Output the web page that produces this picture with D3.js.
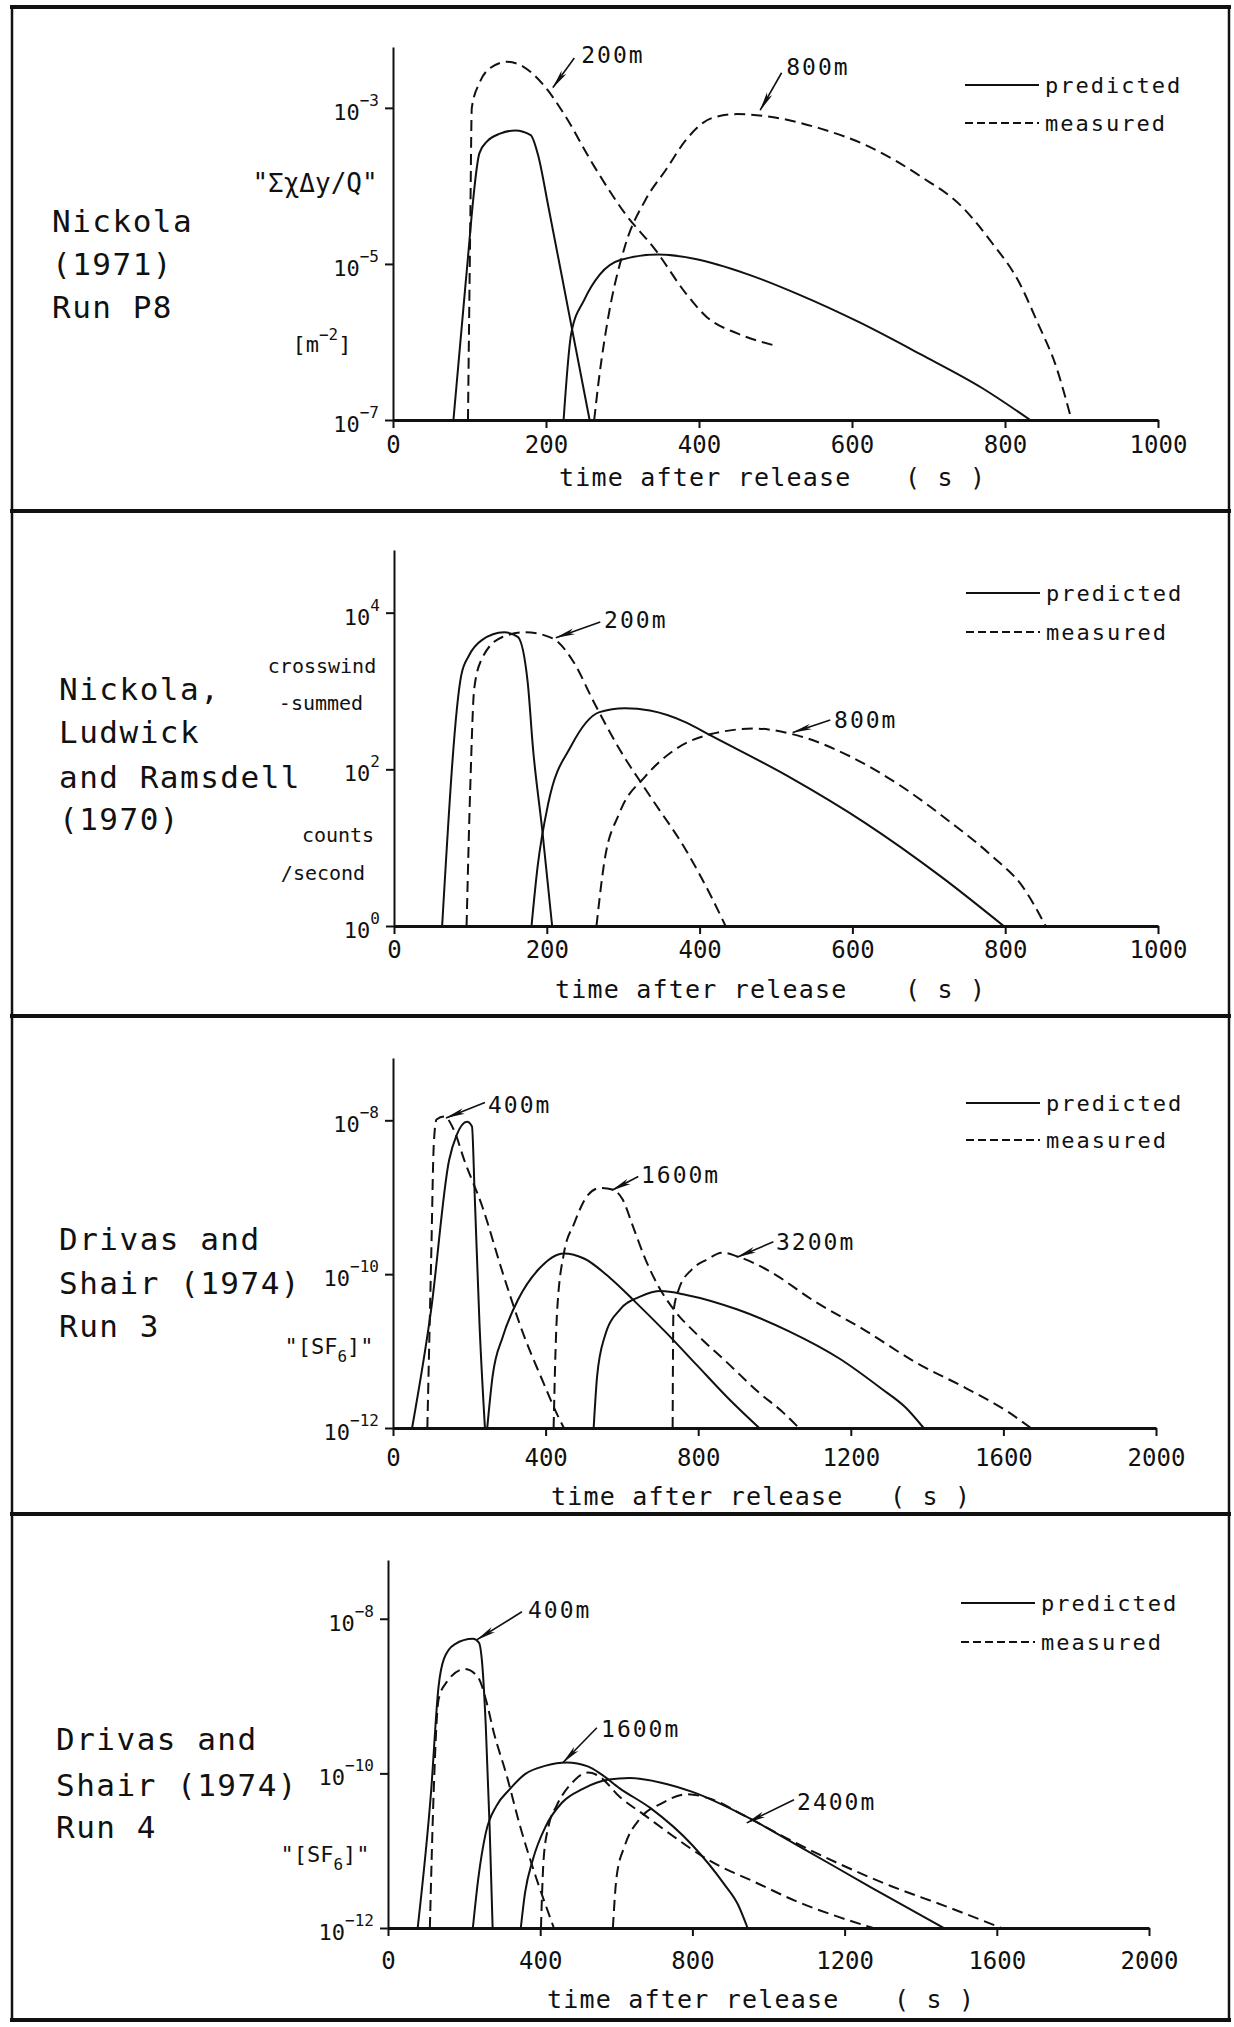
<!DOCTYPE html>
<html>
<head>
<meta charset="utf-8">
<script src="https://cdn.jsdelivr.net/npm/d3@7"></script>
<style>
  body { margin: 0; background: #fff; }
  svg text { font-family: "DejaVu Sans Mono", monospace; fill: #111; }
</style>
</head>
<body>
<svg id="fig" width="1234" height="2027"></svg>
<script>
// values: [time (s), log10 of the plotted quantity]

// Nickola (1971) Run P8
const p1Pred200 = [[79,-7],[95,-5.24],[113,-3.58],[123,-3.43],[140,-3.33],[160,-3.29],[180,-3.35],[190,-3.62],[203,-4.26],[230,-5.63],[257,-7]]
const p1Meas200 = [[98,-7],[101,-4.5],[103,-3.0],[113,-2.68],[127,-2.49],[149,-2.41],[170,-2.47],[197,-2.71],[223,-3.07],[263,-3.75],[303,-4.35],[343,-4.82],[383,-5.38],[410,-5.68],[450,-5.89],[497,-6.04]]
const p1Pred800 = [[223,-7],[233,-5.89],[250,-5.46],[270,-5.14],[297,-4.95],[347,-4.88],[397,-4.94],[463,-5.13],[530,-5.39],[610,-5.75],[690,-6.16],[770,-6.59],[833,-7]]
const p1Meas800 = [[263,-7],[269,-6.49],[280,-5.76],[303,-4.78],[330,-4.18],[357,-3.79],[383,-3.41],[417,-3.13],[450,-3.08],[490,-3.11],[557,-3.26],[623,-3.5],[690,-3.88],[743,-4.26],[783,-4.73],[817,-5.21],[843,-5.76],[867,-6.32],[887,-7]]

// Nickola, Ludwick and Ramsdell (1970)
const p2Pred200 = [[63,0],[88,3.2],[98,3.45],[115,3.65],[144,3.75],[162,3.69],[175,3.11],[182,2.26],[194,1.23],[207,0]]
const p2Meas200 = [[95,0],[100,1.83],[105,3.03],[115,3.41],[142,3.69],[172,3.75],[208,3.67],[235,3.37],[262,2.85],[295,2.26],[335,1.66],[382,0.97],[415,0.38],[434,0]]
const p2Pred800 = [[180,0],[188,0.76],[202,1.57],[232,2.3],[269,2.73],[302,2.78],[335,2.75],[382,2.6],[415,2.43],[516,1.91],[616,1.32],[716,0.63],[798,0]]
const p2Meas800 = [[265,0],[275,0.8],[295,1.44],[329,1.91],[369,2.26],[415,2.45],[472,2.52],[529,2.43],[596,2.17],[663,1.79],[729,1.32],[783,0.89],[823,0.5],[853,0]]

// Drivas and Shair (1974) Run 3
const p3Pred400 = [[50,-12],[100,-10.46],[147,-8.52],[167,-8.19],[194,-8.02],[207,-8.08],[214,-8.95],[227,-10.68],[241,-12]]
const p3Meas400 = [[90,-12],[100,-9.81],[107,-8.3],[114,-7.99],[134,-7.95],[160,-8.13],[187,-8.52],[234,-9.12],[288,-9.99],[341,-10.77],[395,-11.42],[428,-11.8],[448,-12]]
const p3Pred1600 = [[247,-12],[261,-11.33],[288,-10.81],[328,-10.33],[381,-9.94],[448,-9.73],[502,-9.8],[569,-10.05],[635,-10.36],[716,-10.76],[796,-11.18],[876,-11.6],[960,-12]]
const p3Meas1600 = [[421,-12],[426,-11.0],[430,-10.5],[448,-9.73],[475,-9.34],[508,-8.99],[542,-8.88],[575,-8.9],[602,-9.03],[629,-9.38],[662,-9.81],[696,-10.16],[736,-10.46],[796,-10.78],[876,-11.15],[957,-11.53],[1023,-11.8],[1064,-12]]
const p3Pred3200 = [[526,-12],[535,-11.33],[555,-10.81],[595,-10.46],[649,-10.29],[702,-10.22],[769,-10.27],[903,-10.46],[1037,-10.74],[1171,-11.1],[1278,-11.48],[1345,-11.74],[1391,-12]]
const p3Meas3200 = [[733,-12],[735,-10.5],[749,-10.2],[783,-9.94],[823,-9.81],[863,-9.72],[903,-9.77],[983,-9.95],[1104,-10.35],[1237,-10.73],[1371,-11.15],[1505,-11.49],[1612,-11.79],[1672,-12]]

// Drivas and Shair (1974) Run 4
const p4Pred400 = [[78,-12],[113,-10.25],[133,-8.87],[147,-8.52],[175,-8.33],[223,-8.26],[239,-8.31],[248,-8.61],[257,-9.39],[267,-10.68],[275,-12]]
const p4Meas400 = [[110,-12],[120,-10.25],[133,-9.04],[154,-8.82],[202,-8.65],[237,-8.76],[257,-9.04],[278,-9.47],[312,-10.03],[347,-10.68],[388,-11.33],[422,-11.81],[436,-12]]
const p4Pred1600 = [[223,-12],[237,-11.37],[257,-10.77],[285,-10.42],[319,-10.21],[360,-10.01],[415,-9.9],[470,-9.86],[525,-9.91],[560,-10.01],[608,-10.19],[690,-10.45],[800,-10.93],[883,-11.43],[920,-11.7],[945,-12]]
const p4Meas1600 = [[402,-12],[409,-11.11],[422,-10.68],[443,-10.42],[484,-10.12],[525,-9.99],[553,-10.03],[608,-10.3],[677,-10.55],[746,-10.8],[842,-11.12],[966,-11.41],[1076,-11.66],[1186,-11.86],[1275,-12]]
const p4Pred2400 = [[349,-12],[360,-11.55],[381,-11.11],[415,-10.68],[457,-10.38],[512,-10.2],[580,-10.08],[635,-10.06],[718,-10.12],[800,-10.24],[938,-10.55],[1076,-10.93],[1268,-11.47],[1461,-12]]
const p4Meas2400 = [[591,-12],[601,-11.33],[622,-10.94],[663,-10.58],[718,-10.39],[787,-10.27],[842,-10.32],[938,-10.55],[1048,-10.84],[1186,-11.17],[1323,-11.46],[1461,-11.71],[1612,-12]]

const p1Title = ["Nickola", "(1971)", "Run P8"]
const p2Title = ["Nickola,", "Ludwick", "and Ramsdell", "(1970)"]
const p3Title = ["Drivas and", "Shair (1974)", "Run 3"]
const p4Title = ["Drivas and", "Shair (1974)", "Run 4"]

const ticks1000 = [0, 200, 400, 600, 800, 1000]
const ticks2000 = [0, 400, 800, 1200, 1600, 2000]
const legendNames = ["predicted", "measured"]

const panels = [
  { x0: 393, x1: 1158, xMax: 1000, xTicks: ticks1000, yBot: 420, yTop: 47, logMin: -7, logMax: -2.22,
    yTicks: [-3, -5, -7], labPad: 8,
    series: [[p1Pred200, 0], [p1Meas200, 1], [p1Pred800, 0], [p1Meas800, 1]],
    notes: [{ text: "200m", at: [246, -2.42], from: [237, -2.36], tip: [209, -2.74] },
            { text: "800m", at: [514, -2.58], from: [508, -2.55], tip: [480, -3.03] }],
    title: p1Title, titleX: 52, titleY: [232, 275, 318],
    ylab: [{ x: 315, y: 192, size: 26, segs: [["\"ΣχΔy/Q\""]] },
           { x: 322, y: 352, size: 22, segs: [["[m"], ["−2", "sup"], ["]"]] }],
    legend: { x: 965, y: [85, 123] },
    xTitle: { y: 486, x: [559, 905] } },
  { x0: 394, x1: 1158, xMax: 1000, xTicks: ticks1000, yBot: 926, yTop: 550, logMin: 0, logMax: 4.8,
    yTicks: [4, 2, 0], labPad: 7,
    series: [[p2Pred200, 0], [p2Meas200, 1], [p2Pred800, 0], [p2Meas800, 1]],
    notes: [{ text: "200m", at: [275, 3.81], from: [270, 3.88], tip: [212, 3.68] },
            { text: "800m", at: [576, 2.53], from: [571, 2.63], tip: [522, 2.47] }],
    title: p2Title, titleX: 59, titleY: [700, 743, 788, 830],
    ylab: [{ x: 322, y: 673, size: 20, segs: [["crosswind"]] },
           { x: 321, y: 710, size: 20, segs: [["-summed"]] },
           { x: 338, y: 842, size: 20, segs: [["counts"]] },
           { x: 323, y: 880, size: 20, segs: [["/second"]] }],
    legend: { x: 966, y: [593, 632] },
    xTitle: { y: 998, x: [555, 905] } },
  { x0: 393, x1: 1156, xMax: 2000, xTicks: ticks2000, yBot: 1428, yTop: 1058, logMin: -12, logMax: -7.19,
    yTicks: [-8, -10, -12], labPad: 13,
    series: [[p3Pred400, 0], [p3Meas400, 1], [p3Pred1600, 0], [p3Meas1600, 1], [p3Pred3200, 0], [p3Meas3200, 1]],
    notes: [{ text: "400m", at: [249, -7.91], from: [241, -7.77], tip: [139, -7.97] },
            { text: "1600m", at: [650, -8.82], from: [643, -8.73], tip: [574, -8.91] },
            { text: "3200m", at: [1004, -9.69], from: [997, -9.58], tip: [902, -9.78] }],
    title: p3Title, titleX: 59, titleY: [1250, 1294, 1337],
    ylab: [{ x: 329, y: 1354, size: 22, segs: [["\"[SF"], ["6", "sub"], ["]\""]] }],
    legend: { x: 966, y: [1103, 1140] },
    xTitle: { y: 1505, x: [551, 890] } },
  { x0: 388, x1: 1149, xMax: 2000, xTicks: ticks2000, yBot: 1928, yTop: 1560, logMin: -12, logMax: -7.24,
    yTicks: [-8, -10, -12], labPad: 16,
    series: [[p4Pred400, 0], [p4Meas400, 1], [p4Pred1600, 0], [p4Meas1600, 1], [p4Pred2400, 0], [p4Meas2400, 1]],
    notes: [{ text: "400m", at: [368, -7.99], from: [352, -7.91], tip: [234, -8.27] },
            { text: "1600m", at: [560, -9.53], from: [549, -9.41], tip: [460, -9.86] },
            { text: "2400m", at: [1075, -10.47], from: [1067, -10.34], tip: [943, -10.64] }],
    title: p4Title, titleX: 56, titleY: [1750, 1796, 1838],
    ylab: [{ x: 325, y: 1862, size: 22, segs: [["\"[SF"], ["6", "sub"], ["]\""]] }],
    legend: { x: 961, y: [1603, 1642] },
    xTitle: { y: 2008, x: [547, 894] } }
]

const INK = "#111"
const svg = d3.select("#fig")

svg.append("defs").append("marker")
  .attr("id", "arrow").attr("markerUnits", "userSpaceOnUse")
  .attr("viewBox", "0 0 20 8").attr("markerWidth", 20).attr("markerHeight", 8)
  .attr("refX", 19).attr("refY", 4).attr("orient", "auto")
  .append("path").attr("d", "M0,1 L20,4 L0,7 L5,4 Z").attr("fill", INK)

// page frame
const frameY = [7, 511, 1016, 1514, 2020]
frameY.forEach(function (yy) {
  svg.append("line").attr("x1", 10).attr("x2", 1231).attr("y1", yy).attr("y2", yy)
    .attr("stroke", INK).attr("stroke-width", 4)
})
svg.append("line").attr("x1", 12).attr("x2", 12).attr("y1", 7).attr("y2", 2020).attr("stroke", INK).attr("stroke-width", 2.5)
svg.append("line").attr("x1", 1229).attr("x2", 1229).attr("y1", 7).attr("y2", 2020).attr("stroke", INK).attr("stroke-width", 2.5)

function addSegs(text, segs, size) {
  segs.forEach(function (s, i) {
    var t = text.append("tspan").text(s[0])
    if (s[1] === "sup") t.attr("font-size", size * 0.72).attr("dy", -size * 0.55)
    else if (s[1] === "sub") t.attr("font-size", size * 0.72).attr("dy", size * 0.35)
    var prev = segs[i - 1]
    if (!s[1] && prev && prev[1] === "sup") t.attr("dy", size * 0.55)
    if (!s[1] && prev && prev[1] === "sub") t.attr("dy", -size * 0.35)
  })
}

panels.forEach(function (p) {
  var g = svg.append("g")
  var x = d3.scaleLinear().domain([0, p.xMax]).range([p.x0, p.x1])
  var y = d3.scaleLog().domain([10 ** p.logMin, 10 ** p.logMax]).range([p.yBot, p.yTop])

  // y axis
  var ya = g.append("g").attr("transform", "translate(" + p.x0 + ",0)")
    .call(d3.axisLeft(y).tickValues(p.yTicks.map(function (e) { return 10 ** e }))
      .tickSize(8).tickSizeOuter(0).tickFormat(""))
  ya.selectAll("path,line").attr("stroke", INK).attr("stroke-width", 2)

  p.yTicks.forEach(function (e) {
    var t = g.append("text").attr("x", p.x0 - 14).attr("y", y(10 ** e) + 12)
      .attr("text-anchor", "end").attr("font-size", 22)
    t.append("tspan").text("10")
    t.append("tspan").text(String(e).replace("-", "−")).attr("font-size", 16).attr("dy", -14)
  })

  // x axis
  var xa = g.append("g").attr("transform", "translate(0," + p.yBot + ")")
    .call(d3.axisBottom(x).tickValues(p.xTicks).tickSize(8).tickSizeOuter(0)
      .tickPadding(p.labPad).tickFormat(d3.format("d")))
  xa.select(".domain").attr("stroke", INK).attr("stroke-width", 3)
  xa.selectAll(".tick line").attr("stroke", INK).attr("stroke-width", 2)
  xa.selectAll(".tick text").attr("font-size", 24).attr("fill", INK)
    .style("font-family", "'DejaVu Sans Mono', monospace")

  // curves
  var line = d3.line()
    .x(function (d) { return x(d[0]) })
    .y(function (d) { return y(10 ** d[1]) })
    .curve(d3.curveMonotoneX)
  p.series.forEach(function (s) {
    g.append("path").datum(s[0]).attr("d", line)
      .attr("fill", "none").attr("stroke", INK).attr("stroke-width", 2)
      .attr("stroke-dasharray", s[1] ? "11,6" : null)
  })

  // distance labels with arrows
  p.notes.forEach(function (n) {
    g.append("line")
      .attr("x1", x(n.from[0])).attr("y1", y(10 ** n.from[1]))
      .attr("x2", x(n.tip[0])).attr("y2", y(10 ** n.tip[1]))
      .attr("stroke", INK).attr("stroke-width", 1.6).attr("marker-end", "url(#arrow)")
    g.append("text").attr("x", x(n.at[0])).attr("y", y(10 ** n.at[1]))
      .attr("font-size", 23).attr("letter-spacing", 2).text(n.text)
  })

  // legend
  legendNames.forEach(function (name, i) {
    g.append("line").attr("x1", p.legend.x).attr("x2", p.legend.x + 74)
      .attr("y1", p.legend.y[i]).attr("y2", p.legend.y[i])
      .attr("stroke", INK).attr("stroke-width", 2).attr("stroke-dasharray", i ? "8,4" : null)
    g.append("text").attr("x", p.legend.x + 80).attr("y", p.legend.y[i] + 8)
      .attr("font-size", 22).attr("letter-spacing", 2).text(name)
  })

  // x title
  g.append("text").attr("x", p.xTitle.x[0]).attr("y", p.xTitle.y)
    .attr("font-size", 25).attr("letter-spacing", 1.2).text("time after release")
  g.append("text").attr("x", p.xTitle.x[1]).attr("y", p.xTitle.y)
    .attr("font-size", 25).attr("letter-spacing", 1.2).text("( s )")

  // panel title on the left
  p.title.forEach(function (s, i) {
    g.append("text").attr("x", p.titleX).attr("y", p.titleY[i])
      .attr("font-size", 31).attr("letter-spacing", 1.5).text(s)
  })

  // y label
  p.ylab.forEach(function (l) {
    var t = g.append("text").attr("x", l.x).attr("y", l.y)
      .attr("text-anchor", "middle").attr("font-size", l.size)
    addSegs(t, l.segs, l.size)
  })
})
</script>
</body>
</html>
